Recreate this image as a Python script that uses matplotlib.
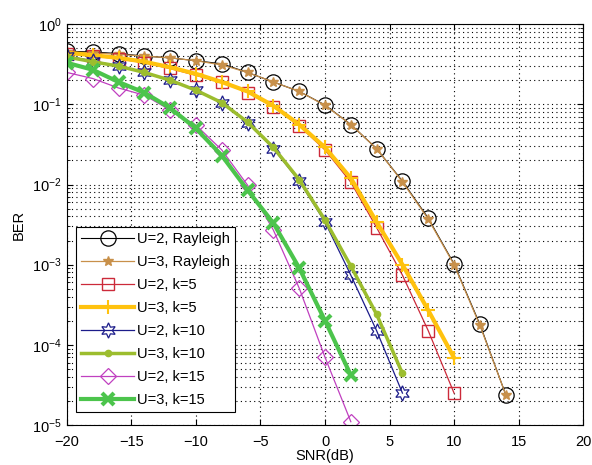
import numpy as np
import matplotlib
matplotlib.use("Agg")
import matplotlib.pyplot as plt
from matplotlib.ticker import LogLocator, NullFormatter

plt.rcParams['font.family'] = ['Liberation Sans', 'DejaVu Sans']
plt.rcParams['mathtext.default'] = 'regular'
plt.rcParams['font.size'] = 10

# SNR axes (dB) for each group of curves
snr_rayleigh = np.arange(-20, 15, 2)
snr_k5 = np.arange(-20, 11, 2)
snr_k10 = np.arange(-20, 7, 2)
snr_k15 = np.arange(-20, 3, 2)

# BER values
ber_u2_rayleigh = [0.46, 0.45, 0.43, 0.40, 0.38, 0.35, 0.32, 0.25, 0.19, 0.145, 0.098,
                   0.056, 0.028, 0.011, 0.0038, 0.00102, 1.8e-4, 2.4e-5]
ber_u3_rayleigh = [0.45, 0.44, 0.42, 0.40, 0.38, 0.35, 0.31, 0.25, 0.19, 0.145, 0.097,
                   0.056, 0.028, 0.0108, 0.0037, 0.00100, 1.75e-4, 2.4e-5]
ber_u2_k5 = [0.43, 0.40, 0.37, 0.33, 0.28, 0.23, 0.19, 0.14, 0.093, 0.054, 0.027,
             0.0107, 0.0029, 7.4e-4, 1.5e-4, 2.5e-5]
ber_u3_k5 = [0.44, 0.41, 0.38, 0.34, 0.29, 0.24, 0.19, 0.145, 0.096, 0.056, 0.029,
             0.012, 0.0034, 1.0e-3, 2.7e-4, 6.9e-5]
ber_u2_k10 = [0.40, 0.35, 0.30, 0.25, 0.20, 0.15, 0.105, 0.059, 0.028, 0.011, 0.0034,
              7.4e-4, 1.5e-4, 2.5e-5]
ber_u3_k10 = [0.39, 0.34, 0.30, 0.25, 0.20, 0.15, 0.105, 0.060, 0.029, 0.0115, 0.0036,
              9.6e-4, 2.4e-4, 4.4e-5]
ber_u2_k15 = [0.25, 0.21, 0.16, 0.13, 0.085, 0.055, 0.027, 0.0098, 0.0027, 5.1e-4,
              7.0e-5, 1.1e-5]
ber_u3_k15 = [0.33, 0.27, 0.19, 0.14, 0.09, 0.05, 0.023, 0.0085, 0.0033, 9.1e-4,
              2.0e-4, 4.2e-5]

fig = plt.figure(figsize=(5.92, 4.65), dpi=100)
ax = fig.add_axes([0.113, 0.086, 0.872, 0.862])

ax.semilogy(snr_rayleigh, ber_u2_rayleigh, '-o', color='black', lw=0.8,
            ms=11, mfc='none', mew=0.9, label='U=2, Rayleigh')
ax.semilogy(snr_rayleigh, ber_u3_rayleigh, '-*', color='#c8904a', lw=0.9,
            ms=7, label='U=3, Rayleigh')
ax.semilogy(snr_k5, ber_u2_k5, '-s', color='#cc2a3a', lw=0.9,
            ms=9, mfc='none', mew=1.0, label='U=2, k=5')
ax.semilogy(snr_k5, ber_u3_k5, '-+', color='#ffc20e', lw=3,
            ms=10, mew=1.5, label='U=3, k=5')
ax.semilogy(snr_k10, ber_u2_k10, '-', marker=(6, 1, 0), color='#1c1c8a', lw=0.9,
            ms=11, mfc='none', mew=0.9, label='U=2, k=10')
ax.semilogy(snr_k10, ber_u3_k10, '-o', color='#9cbd2e', lw=2.5,
            ms=4.5, label='U=3, k=10')
ax.semilogy(snr_k15, ber_u2_k15, '-D', color='#c040c0', lw=0.9,
            ms=8, mfc='none', mew=0.9, label='U=2, k=15')
ax.semilogy(snr_k15, ber_u3_k15, '-x', color='#4cc44c', lw=3,
            ms=9, mew=3, label='U=3, k=15')

ax.set_xlim(-20, 20)
ax.set_ylim(1e-5, 1)
ax.set_xticks(np.arange(-20, 21, 5))
ax.yaxis.set_major_locator(LogLocator(base=10, numticks=10))
ax.yaxis.set_minor_locator(LogLocator(base=10, subs=np.arange(2, 10), numticks=20))
ax.yaxis.set_minor_formatter(NullFormatter())
ax.tick_params(which='both', direction='in', top=True, right=True, labelsize=10.5)
ax.tick_params(which='major', length=4)
ax.tick_params(which='minor', length=2)
ax.tick_params(axis='x', pad=7)
ax.tick_params(axis='y', pad=4)

ax.grid(True, which='major', linestyle=(0, (1, 3)), color='black', lw=0.8)
ax.grid(True, which='minor', axis='y', linestyle=(0, (1, 3)), color='black', lw=0.8)

ax.set_xlabel('SNR(dB)', fontsize=10.5, labelpad=0)
ax.set_ylabel('BER', fontsize=10.5, labelpad=4)

leg = ax.legend(loc='lower left', bbox_to_anchor=(0.018, 0.032), fontsize=10.5,
                handlelength=3.6, handletextpad=0.25, labelspacing=0.62,
                borderpad=0.35, borderaxespad=0, fancybox=False, framealpha=1)
leg.get_frame().set_edgecolor('black')
leg.get_frame().set_linewidth(0.8)

fig.savefig('out.png', dpi=100)
